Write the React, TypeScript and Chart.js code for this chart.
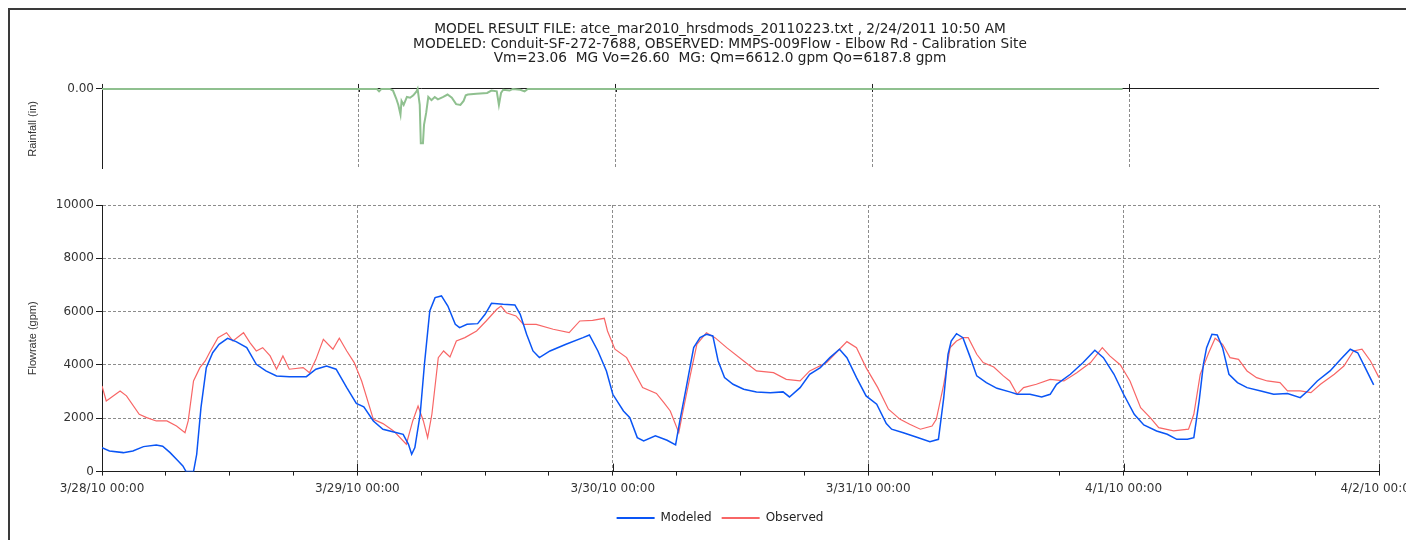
import React, { useEffect, useRef } from 'react';
import { Chart, registerables } from 'chart.js';

Chart.register(...registerables);

const titleLines = [
  'MODEL RESULT FILE: atce_mar2010_hrsdmods_20110223.txt , 2/24/2011 10:50 AM',
  'MODELED: Conduit-SF-272-7688, OBSERVED: MMPS-009Flow - Elbow Rd - Calibration Site',
  'Vm=23.06  MG Vo=26.60  MG: Qm=6612.0 gpm Qo=6187.8 gpm',
];

const dayLabels = ['3/28/10 00:00', '3/29/10 00:00', '3/30/10 00:00', '3/31/10 00:00', '4/1/10 00:00', '4/2/10 00:00'];
const rainTickLabel = '0.00';

// hours since 3/28/10 00:00
const modeledHours = [
  0, 0.7, 2.0, 2.9, 3.9, 5.1, 5.7, 6.4, 7.0, 7.6, 7.9, 8.6, 8.9, 9.3, 9.8, 10.4, 11.0, 11.8, 12.6, 13.6,
  14.5, 15.4, 16.4, 17.6, 19.2, 20.1, 21.1, 22.0, 23.0, 23.9, 24.6, 25.5, 26.4, 27.7, 28.3, 28.8, 29.1, 29.4, 29.9, 30.3,
  30.8, 31.3, 31.9, 32.5, 33.2, 33.6, 34.3, 35.3, 36.0, 36.6, 37.7, 38.8, 39.3, 39.9, 40.5, 41.1, 42.1, 43.6, 45.2, 45.8,
  46.6, 47.4, 48.0, 49.0, 49.6, 50.3, 50.9, 52.0, 53.1, 53.9, 54.3, 54.9, 55.6, 56.2, 56.8, 57.4, 57.9, 58.5, 59.3, 60.3,
  61.5, 62.8, 64.0, 64.6, 65.6, 66.5, 67.5, 68.4, 69.3, 70.0, 70.9, 71.8, 72.8, 73.7, 74.2, 75.3, 76.5, 77.8, 78.6, 79.1,
  79.5, 79.8, 80.3, 80.9, 81.6, 82.2, 83.1, 84.1, 85.3, 86.0, 87.2, 88.3, 89.1, 89.7, 91.0, 92.2, 93.3, 94.1, 95.1, 96.0,
  97.0, 97.9, 99.1, 100.1, 101.0, 102.0, 102.6, 103.1, 103.5, 103.8, 104.3, 104.8, 105.3, 105.9, 106.7, 107.6, 108.9, 110.1, 111.4, 112.6,
  113.3, 114.2, 115.4, 116.4, 117.3, 118.0, 118.7, 119.5,
];
const modeledFlow = [
  900, 775, 712, 775, 937, 1000, 950, 712, 462, 212, 0, 0, 650, 2400, 3900, 4460, 4775, 5000, 4875, 4650,
  4025, 3775, 3590, 3560, 3560, 3840, 3960, 3840, 3150, 2560, 2425, 1900, 1590, 1460, 1400, 1025, 650, 900, 2150, 4025,
  6025, 6525, 6590, 6210, 5525, 5400, 5525, 5550, 5900, 6310, 6275, 6250, 5900, 5150, 4525, 4275, 4525, 4775, 5025, 5125,
  4525, 3775, 2900, 2275, 2025, 1275, 1150, 1340, 1175, 1000, 1900, 3150, 4650, 5025, 5150, 5090, 4150, 3525, 3275, 3090,
  2990, 2960, 2990, 2800, 3150, 3650, 3900, 4275, 4590, 4275, 3525, 2840, 2525, 1800, 1590, 1460, 1300, 1125, 1210, 2775,
  4400, 4900, 5175, 5025, 4275, 3590, 3340, 3125, 2990, 2900, 2900, 2800, 2900, 3275, 3650, 4090, 4550, 4275, 3650, 2900,
  2150, 1750, 1525, 1400, 1210, 1210, 1275, 2650, 4025, 4650, 5150, 5125, 4650, 3650, 3340, 3150, 3025, 2900, 2925, 2775,
  3025, 3400, 3775, 4210, 4590, 4460, 3900, 3250,
];

const observedHours = [
  0, 0.4, 1.7, 2.3, 3.5, 4.2, 5.1, 6.1, 7.0, 7.8, 8.1, 8.6, 9.2, 9.7, 10.1, 10.9, 11.7, 12.3, 13.3, 13.9,
  14.5, 15.1, 15.8, 16.4, 17.0, 17.6, 18.9, 19.5, 20.1, 20.8, 21.7, 22.3, 23.0, 23.7, 24.4, 25.5, 26.4, 27.4, 28.6, 29.2,
  29.7, 30.2, 30.6, 31.0, 31.6, 32.1, 32.7, 33.3, 34.1, 35.2, 36.1, 37.1, 37.5, 38.0, 38.9, 39.6, 40.8, 42.4, 43.9, 44.9,
  46.1, 47.2, 47.5, 48.2, 49.3, 50.8, 52.1, 52.8, 53.4, 54.2, 54.6, 55.3, 55.9, 56.8, 57.6, 58.7, 60.3, 61.5, 63.1, 64.3,
  65.6, 66.5, 68.1, 69.3, 70.0, 70.9, 71.8, 72.9, 73.9, 75.0, 75.9, 76.9, 78.0, 78.4, 79.1, 79.7, 80.3, 80.9, 81.4, 82.2,
  82.8, 83.8, 84.7, 85.3, 86.0, 86.6, 87.8, 89.1, 90.4, 91.6, 92.9, 94.0, 94.7, 95.7, 96.6, 97.6, 98.5, 99.3, 100.7, 102.1,
  102.6, 103.2, 104.0, 104.6, 105.3, 106.0, 106.8, 107.6, 108.5, 109.5, 110.7, 111.4, 112.6, 113.6, 114.5, 115.8, 116.7, 117.6, 118.4, 119.2,
  120.0,
];
const observedFlow = [
  3210, 2650, 3025, 2840, 2150, 2025, 1900, 1900, 1710, 1460, 1900, 3400, 3900, 4150, 4460, 5025, 5210, 4900, 5210, 4840,
  4525, 4650, 4340, 3840, 4340, 3840, 3900, 3710, 4210, 4960, 4590, 5000, 4525, 4090, 3400, 1960, 1800, 1525, 1025, 1900,
  2460, 1900, 1275, 2150, 4275, 4525, 4300, 4900, 5025, 5275, 5650, 6090, 6210, 5960, 5840, 5525, 5525, 5340, 5210, 5650,
  5675, 5750, 5275, 4590, 4275, 3150, 2930, 2590, 2275, 1460, 2275, 3650, 4775, 5210, 5025, 4650, 4150, 3775, 3710, 3460,
  3400, 3775, 4090, 4590, 4875, 4650, 3900, 3150, 2340, 1960, 1775, 1590, 1710, 1960, 3275, 4650, 4900, 5025, 5025, 4400,
  4090, 3925, 3590, 3400, 2900, 3150, 3275, 3460, 3400, 3710, 4090, 4650, 4340, 4000, 3400, 2400, 2025, 1650, 1525, 1590,
  2150, 3650, 4460, 5000, 4775, 4275, 4210, 3775, 3525, 3400, 3340, 3025, 3025, 2960, 3275, 3650, 3960, 4525, 4590, 4150,
  3525,
];

const rainHours = [
  0, 25.7, 25.9, 26.1, 26.9, 27.2, 27.5, 27.7, 27.9, 28.0, 28.2, 28.5, 28.8, 29.1, 29.4, 29.5, 29.7, 29.8, 30.0, 30.1,
  30.3, 30.5, 30.8, 31.1, 31.4, 31.9, 32.3, 32.7, 33.1, 33.5, 33.8, 34.0, 34.2, 35.0, 36.0, 36.4, 36.9, 37.1, 37.3, 37.5,
  38.1, 38.4, 39.1, 39.5, 39.8, 95.4,
];
const rainDepth = [
  0, 0, 0.003, 0, 0, 0.002, 0.012, 0.02, 0.032, 0.015, 0.02, 0.01, 0.011, 0.008, 0.003, 0, 0.02, 0.068, 0.068, 0.045,
  0.03, 0.01, 0.014, 0.01, 0.013, 0.01, 0.007, 0.011, 0.019, 0.02, 0.015, 0.008, 0.007, 0.006, 0.005, 0.002, 0.003, 0.02, 0.005, 0.001,
  0.002, 0, 0.001, 0.003, 0, 0,
];

const AXIS = '#1e1e1e';
const GRID = '#8c8c8c';
const TEXT = '#333333';

const dayTickPlugin = {
  id: 'dayTicks',
  beforeDatasetsDraw(chart: any, _args: any, opts: any) {
    const xs = chart.scales.x;
    const ca = chart.chartArea;
    const ctx = chart.ctx;
    ctx.save();
    ctx.strokeStyle = AXIS;
    ctx.lineWidth = 1;
    xs.ticks.forEach((t: any) => {
      if (t.value % 24 !== 0) return;
      const px = Math.round(xs.getPixelForValue(t.value)) + 0.5;
      const y0 = opts.edge === 'top' ? ca.top : ca.bottom;
      const y1 = opts.edge === 'top' ? y0 + opts.inner : y0 - opts.inner;
      ctx.beginPath();
      ctx.moveTo(px, y0);
      ctx.lineTo(px, y1);
      ctx.stroke();
    });
    ctx.restore();
  },
};

const toPoints = (xs: number[], ys: number[]) => xs.map((x, i) => ({ x, y: ys[i] }));

export default function App() {
  const rainRef = useRef<HTMLCanvasElement>(null);
  const flowRef = useRef<HTMLCanvasElement>(null);

  useEffect(() => {
    const rainChart = new Chart(rainRef.current as HTMLCanvasElement, {
      type: 'line',
      data: {
        datasets: [
          {
            label: 'Rainfall',
            data: toPoints(rainHours, rainDepth),
            borderColor: '#8fc08f',
            backgroundColor: '#8fc08f',
            borderWidth: 2,
            pointRadius: 0,
            tension: 0,
            clip: false as any,
          },
        ],
      },
      plugins: [dayTickPlugin as any],
      options: {
        animation: false,
        responsive: false,
        devicePixelRatio: 1,
        events: [],
        layout: { padding: { top: 0, bottom: 9, left: 0, right: 0 } },
        plugins: {
          legend: { display: false },
          tooltip: { enabled: false },
          title: {
            display: true,
            text: titleLines,
            color: '#222',
            font: { family: 'DejaVu Sans', size: 13.7, weight: 'normal', lineHeight: 1.06 },
            padding: { top: 14.5, bottom: 17.9 },
          },
          dayTicks: { edge: 'top', inner: 3 },
        } as any,
        scales: {
          x: {
            type: 'linear',
            position: 'top',
            min: 0,
            max: 119.3,
            ticks: { display: false, stepSize: 24, includeBounds: false },
            grid: { color: GRID, tickColor: AXIS, tickLength: 5, drawTicks: true },
            border: { color: AXIS, dash: [3, 2], width: 1 },
          },
          y: {
            type: 'linear',
            position: 'left',
            reverse: true,
            min: 0,
            max: 0.1,
            afterBuildTicks: (s: any) => {
              s.ticks = [{ value: 0 }];
            },
            afterFit: (s: any) => {
              s.width = 94;
            },
            ticks: {
              callback: () => rainTickLabel,
              color: TEXT,
              font: { family: 'DejaVu Sans', size: 12 },
              padding: 2,
            },
            grid: { drawOnChartArea: false, tickColor: AXIS, tickLength: 6 },
            border: { color: AXIS, width: 1 },
            title: {
              display: true,
              text: 'Rainfall (in)',
              color: TEXT,
              font: { family: 'Liberation Sans', size: 11 },
              padding: { top: 18, bottom: 0 },
            },
          },
          yRight: {
            type: 'linear',
            position: 'right',
            afterFit: (s: any) => {
              s.width = 53.7;
            },
            ticks: { display: false },
            grid: { display: false, drawTicks: false },
            border: { display: false },
          },
        } as any,
      },
    });

    const flowChart = new Chart(flowRef.current as HTMLCanvasElement, {
      type: 'line',
      data: {
        datasets: [
          {
            label: 'Modeled',
            data: toPoints(modeledHours, modeledFlow),
            borderColor: '#0a55f5',
            backgroundColor: '#0a55f5',
            borderWidth: 1.5,
            pointRadius: 0,
            tension: 0,
          },
          {
            label: 'Observed',
            data: toPoints(observedHours, observedFlow),
            borderColor: '#f86666',
            backgroundColor: '#f86666',
            borderWidth: 1.2,
            pointRadius: 0,
            tension: 0,
          },
        ],
      },
      plugins: [dayTickPlugin as any],
      options: {
        animation: false,
        responsive: false,
        devicePixelRatio: 1,
        events: [],
        layout: { padding: { top: 17, bottom: 6, left: 0, right: 0 } },
        plugins: {
          tooltip: { enabled: false },
          title: { display: false },
          legend: {
            display: true,
            position: 'bottom',
            labels: {
              color: '#222',
              font: { family: 'DejaVu Sans', size: 12 },
              boxWidth: 38,
              boxHeight: 2,
              padding: 10,
              generateLabels: (chart: any) =>
                chart.data.datasets.map((ds: any, i: number) => ({
                  text: ds.label,
                  fillStyle: ds.borderColor,
                  strokeStyle: ds.borderColor,
                  lineWidth: 0,
                  fontColor: '#222',
                  hidden: false,
                  datasetIndex: i,
                })),
            },
          },
          dayTicks: { edge: 'bottom', inner: 8 },
        } as any,
        scales: {
          x: {
            type: 'linear',
            position: 'bottom',
            min: 0,
            max: 120,
            ticks: {
              stepSize: 6,
              autoSkip: false,
              maxRotation: 0,
              includeBounds: false,
              callback: (v: any) => (Number(v) % 24 === 0 ? dayLabels[Number(v) / 24] : ''),
              color: TEXT,
              font: { family: 'DejaVu Sans', size: 12 },
              padding: 6,
            },
            grid: {
              color: (c: any) => (c.tick && c.tick.value % 24 === 0 ? GRID : 'rgba(0,0,0,0)'),
              tickColor: AXIS,
              tickLength: 4,
            },
            border: { color: AXIS, dash: [3, 2], width: 1 },
          },
          y: {
            type: 'linear',
            position: 'left',
            min: 0,
            max: 10000,
            afterFit: (s: any) => {
              s.width = 94;
            },
            ticks: {
              stepSize: 2000,
              callback: (v: any) => String(v),
              color: TEXT,
              font: { family: 'DejaVu Sans', size: 12 },
              padding: 2,
            },
            grid: { color: GRID, tickColor: AXIS, tickLength: 6 },
            border: { color: AXIS, dash: [3, 2], width: 1 },
            title: {
              display: true,
              text: 'Flowrate (gpm)',
              color: TEXT,
              font: { family: 'Liberation Sans', size: 11 },
              padding: { top: 18, bottom: 0 },
            },
          },
          yRight: {
            type: 'linear',
            position: 'right',
            afterFit: (s: any) => {
              s.width = 53;
            },
            ticks: { display: false },
            grid: { display: false, drawTicks: false },
            border: { display: false },
          },
        } as any,
      },
    });

    return () => {
      rainChart.destroy();
      flowChart.destroy();
    };
  }, []);

  return (
    <div style={{ position: 'relative', width: 1406, height: 532, overflow: 'hidden', background: '#fff' }}>
      <canvas ref={rainRef} width={1424} height={170} style={{ position: 'absolute', left: 0, top: 0, display: 'block' }} />
      <canvas ref={flowRef} width={1424} height={352} style={{ position: 'absolute', left: 0, top: 180, display: 'block' }} />
      <div
        style={{
          position: 'absolute',
          left: 0,
          top: 0,
          width: 1600,
          height: 700,
          borderLeft: '2px solid #3a3a3a',
          borderTop: '2px solid #3a3a3a',
          pointerEvents: 'none',
        }}
      />
    </div>
  );
}
